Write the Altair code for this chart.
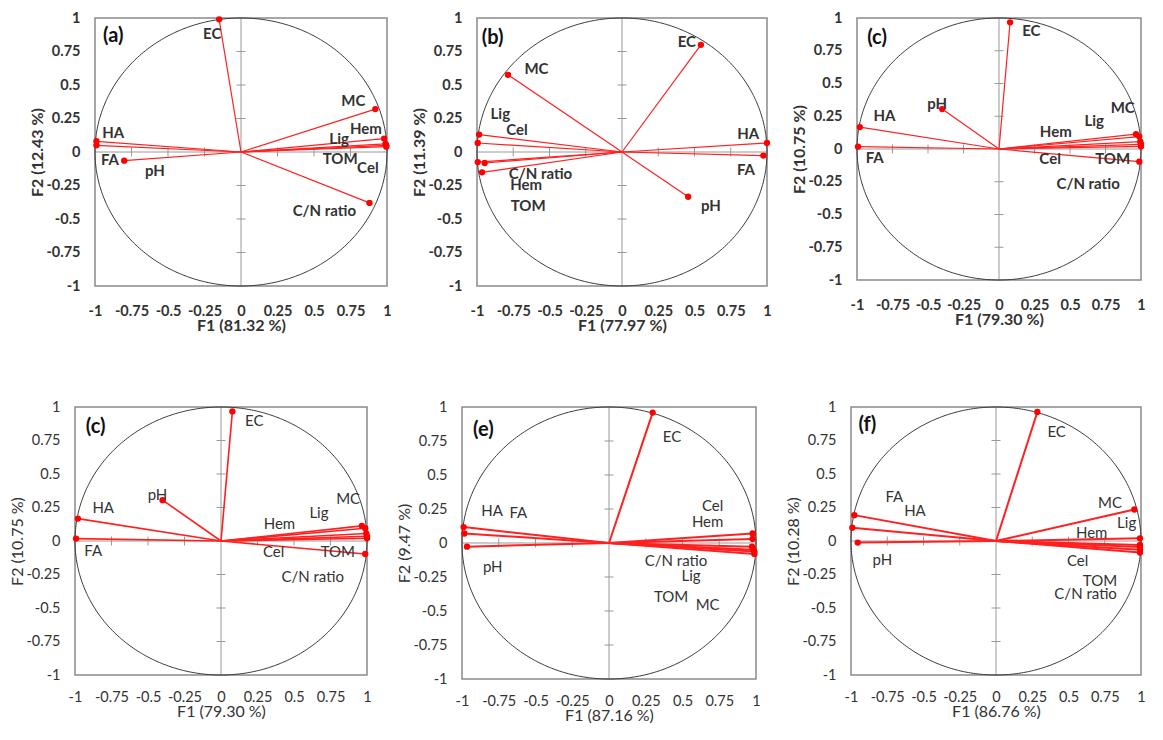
import altair as alt
import numpy as np
import pandas as pd

VARS = ["EC", "MC", "Hem", "Lig", "TOM", "Cel", "C/N ratio", "HA", "FA", "pH"]
TICKS = [-1, -0.75, -0.5, -0.25, 0, 0.25, 0.5, 0.75, 1]

# panel (a)
a_f1 = [-0.15, 0.92, 0.98, 0.99, 0.995, 0.995, 0.88, -0.99, -0.99, -0.80]
a_f2 = [0.99, 0.32, 0.10, 0.06, 0.05, 0.04, -0.38, 0.08, 0.05, -0.065]
a_lx = [-0.197, 0.77, 0.855, 0.672, 0.679, 0.869, 0.571, -0.875, -0.898, -0.59]
a_ly = [0.877, 0.383, 0.168, 0.099, -0.054, -0.116, -0.444, 0.141, -0.057, -0.143]

# panel (b)
b_f1 = [0.544, -0.786, -0.995, -0.985, -0.965, -0.995, -0.947, 1.0, 0.975, 0.456]
b_f2 = [0.80, 0.576, -0.075, 0.13, -0.152, 0.067, -0.082, 0.067, -0.027, -0.334]
b_lx = [0.447, -0.59, -0.661, -0.839, -0.647, -0.724, -0.562, 0.871, 0.855, 0.613]
b_ly = [0.82, 0.621, -0.244, 0.284, -0.406, 0.165, -0.165, 0.135, -0.135, -0.406]

# panel (c)
c_f1 = [0.078, 0.965, 0.995, 0.988, 1.0, 1.0, 0.988, -0.98, -0.993, -0.40]
c_f2 = [0.967, 0.113, 0.056, 0.095, 0.02, 0.036, -0.097, 0.167, 0.018, 0.305]
c_lx = [0.228, 0.871, 0.40, 0.671, 0.80, 0.36, 0.628, -0.807, -0.875, -0.435]
c_ly = [0.897, 0.313, 0.126, 0.21, -0.079, -0.079, -0.269, 0.249, -0.072, 0.344]

# panel (e)
e_f1 = [0.297, 0.989, 0.977, 0.982, 0.989, 0.977, 0.973, -0.989, -0.984, -0.966]
e_f2 = [0.959, -0.08, 0.03, -0.05, -0.063, 0.07, -0.027, 0.117, 0.07, -0.027]
e_lx = [0.429, 0.671, 0.671, 0.558, 0.422, 0.705, 0.456, -0.796, -0.617, -0.791]
e_ly = [0.776, -0.453, 0.156, -0.241, -0.399, 0.27, -0.129, 0.236, 0.217, -0.178]

# panel (f)
f_f1 = [0.285, 0.954, 0.993, 0.993, 0.993, 0.993, 0.993, -0.991, -0.977, -0.954]
f_f2 = [0.963, 0.235, -0.03, 0.02, -0.065, -0.045, -0.086, 0.099, 0.193, -0.012]
f_lx = [0.418, 0.786, 0.66, 0.901, 0.717, 0.563, 0.618, -0.559, -0.701, -0.784]
f_ly = [0.815, 0.284, 0.062, 0.136, -0.296, -0.148, -0.395, 0.222, 0.326, -0.143]

FONT = "Lato"
TXT = "#333333"


def panel(letter, letter_xy, f1, f2, lx, ly, t1, t2, w, h, bold, lw, xlp, shift=0):
    weight = "bold" if bold else "normal"
    # 'shift' moves the plotted square to the right inside a wider view
    if shift:
        sx = alt.Scale(domain=[-1, 1], nice=False, zero=False, range=[shift, shift + w])
    else:
        sx = alt.Scale(domain=[-1, 1], nice=False, zero=False)
    sy = alt.Scale(domain=[-1, 1], nice=False, zero=False)
    common = dict(values=TICKS, labelExpr="datum.value + ''", grid=False, domain=False,
                  ticks=False, labelFlush=False, labelOverlap=False, labelFont=FONT,
                  titleFont=FONT, labelFontSize=14.5, titleFontSize=16,
                  labelFontWeight=weight, titleFontWeight=weight,
                  labelColor=TXT, titleColor=TXT)
    ax_x = alt.Axis(title=t1, labelPadding=xlp, titlePadding=0, **common)
    if shift:
        ax_y = alt.Axis(title=t2, labelPadding=15, titlePadding=0, offset=-shift, **common)
    else:
        ax_y = alt.Axis(title=t2, labelPadding=15, titlePadding=0, **common)

    def X(f):
        return alt.X(f, type="quantitative", scale=sx, axis=ax_x)

    def Y(f):
        return alt.Y(f, type="quantitative", scale=sy, axis=ax_y)

    # plot frame drawn as a data rectangle spanning the full domain
    fdf = pd.DataFrame({"x": [-1.0], "x2": [1.0], "y": [-1.0], "y2": [1.0]})
    frame = alt.Chart(fdf).mark_rect(fill="white", fillOpacity=0, stroke="#8a8a8a",
                                     strokeWidth=1.5, strokeOpacity=1).encode(
        x=X("x"), x2="x2", y=Y("y"), y2="y2")

    zdf = pd.DataFrame({"x": [-1.0, 0.0], "x2": [1.0, 0.0], "y": [0.0, -1.0], "y2": [0.0, 1.0]})
    zaxes = alt.Chart(zdf).mark_rule(strokeWidth=1, color="#999999").encode(
        x=X("x"), x2="x2", y=Y("y"), y2="y2")

    tv = [t for t in TICKS if t != 0]
    tdf = pd.DataFrame({"t": tv, "z": [0.0] * len(tv)})
    xt = alt.Chart(tdf).mark_tick(orient="vertical", size=9, thickness=1, color="#999999", opacity=1).encode(
        x=X("t"), y=Y("z"))
    yt = alt.Chart(tdf).mark_tick(orient="horizontal", size=9, thickness=1, color="#999999", opacity=1).encode(
        x=X("z"), y=Y("t"))

    ang = np.linspace(0, 2 * np.pi, 361)
    circ = alt.Chart(pd.DataFrame({"cx": np.cos(ang), "cy": np.sin(ang), "o": np.arange(361)})).mark_line(
        color="#3a3a3a", strokeWidth=1).encode(x=X("cx"), y=Y("cy"), order="o:Q")

    vdf = pd.DataFrame({"var": VARS, "f1": f1, "f2": f2, "ox": 0.0, "oy": 0.0, "lx": lx, "ly": ly})
    vec = alt.Chart(vdf).mark_rule(color="#ff2020", strokeWidth=lw).encode(
        x=X("ox"), x2="f1", y=Y("oy"), y2="f2")
    pts = alt.Chart(vdf).mark_circle(color="#ff0000", opacity=1, size=40).encode(
        x=X("f1"), y=Y("f2"))
    txt = alt.Chart(vdf).mark_text(font=FONT, fontSize=15, fontWeight=weight, color=TXT,
                                   align="center", baseline="middle").encode(
        x=X("lx"), y=Y("ly"), text="var:N")
    let = alt.Chart(pd.DataFrame({"lx": [letter_xy[0]], "ly": [letter_xy[1]], "t": [letter]})).mark_text(
        font=FONT, fontSize=20, fontWeight="bold", color="#111111", align="center", baseline="middle").encode(
        x=X("lx"), y=Y("ly"), text="t:N")

    return alt.layer(frame, zaxes, xt, yt, circ, vec, pts, txt, let).properties(width=w + shift, height=h)


pa = panel("(a)", (-0.875, 0.864), a_f1, a_f2, a_lx, a_ly, "F1 (81.32 %)", "F2 (12.43 %)", 292, 268, True, 1.2, 18, shift=20)
pb = panel("(b)", (-0.892, 0.85), b_f1, b_f2, b_lx, b_ly, "F1 (77.97 %)", "F2 (11.39 %)", 290, 268, True, 1.2, 18)
pc = panel("(c)", (-0.859, 0.851), c_f1, c_f2, c_lx, c_ly, "F1 (79.30 %)", "F2 (10.75 %)", 284, 262, True, 1.2, 18)
pc2 = panel("(c)", (-0.859, 0.851), c_f1, c_f2, c_lx, c_ly, "F1 (79.30 %)", "F2 (10.75 %)", 292, 268, False, 1.6, 15)
pe = panel("(e)", (-0.855, 0.83), e_f1, e_f2, e_lx, e_ly, "F1 (87.16 %)", "F2 (9.47 %)", 294, 272, False, 2, 15)
pf = panel("(f)", (-0.887, 0.864), f_f1, f_f2, f_lx, f_ly, "F1 (86.76 %)", "F2 (10.28 %)", 290, 268, False, 2, 15)

top = alt.hconcat(pa, pb, pc, spacing=19)
bottom = alt.hconcat(pc2, pe, pf, spacing=24)

chart = alt.vconcat(top, bottom, spacing=65).properties(
    padding={"left": 1, "top": 2, "right": 0, "bottom": 0}, background="white"
).configure_view(stroke=None)

chart.save("out.html", embed_options={"renderer": "svg", "actions": False})
